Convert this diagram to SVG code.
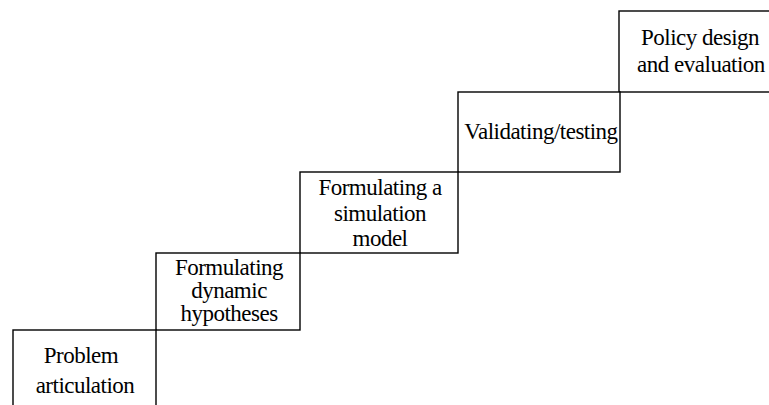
<svg xmlns="http://www.w3.org/2000/svg" width="769" height="405" viewBox="0 0 769 405">
<style>
.box{fill:#fff;stroke:#000;stroke-width:1.4}
.t{font-family:"Liberation Serif","Times New Roman",serif;font-size:23px;letter-spacing:-0.5px;fill:#000;text-anchor:middle}
</style>
<rect width="769" height="405" fill="#fff"/>
<g id="n5"><rect class="box" x="619" y="11" width="170" height="81"/>
<text class="t" x="700" y="45">Policy design</text><text class="t" x="701" y="72">and evaluation</text></g>
<g id="n4"><rect class="box" x="458" y="92" width="162" height="80"/>
<text class="t" x="541" y="139">Validating/testing</text></g>
<g id="n3"><rect class="box" x="300" y="172" width="158" height="81"/>
<text class="t" x="380" y="195">Formulating a</text><text class="t" x="380" y="221">simulation</text><text class="t" x="380" y="246">model</text></g>
<g id="n2"><rect class="box" x="156" y="253" width="144" height="77"/>
<text class="t" x="229" y="275">Formulating</text><text class="t" x="229" y="298">dynamic</text><text class="t" x="229" y="321">hypotheses</text></g>
<g id="n1"><rect class="box" x="13" y="330" width="143" height="90"/>
<text class="t" x="81" y="363">Problem</text><text class="t" x="85" y="393">articulation</text></g>
<g id="connectors"></g>
</svg>
